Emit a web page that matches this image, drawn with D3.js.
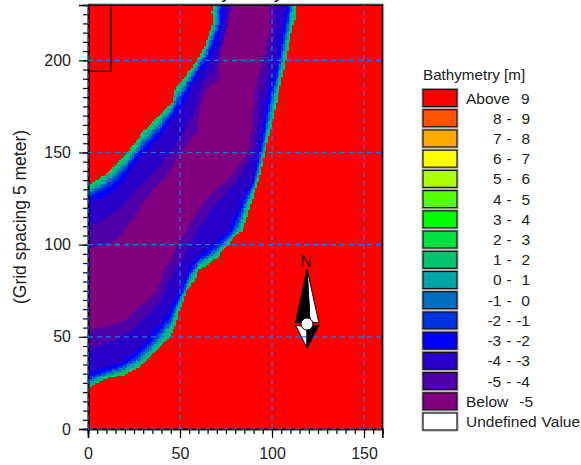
<!DOCTYPE html>
<html>
<head>
<meta charset="utf-8">
<script src="https://d3js.org/d3.v7.min.js"></script>
<style>
body { margin: 0; background: #fff; }
text { font-family: "Liberation Sans", Arial, sans-serif; fill: #222; white-space: pre; }
</style>
</head>
<body>
<div id="chart-area"></div>
<script>
//Legend
var legendLabels = ["Above  9", "8 -  9", "7 -  8", "6 -  7", "5 -  6", "4 -  5", "3 -  4", "2 -  3", "1 -  2", "0 -  1",
    "-1 -  0", "-2 - -1", "-3 - -2", "-4 - -3", "-5 - -4", "Below  -5", "Undefined Value"];
var legendColors = ["#ff0000", "#ff5500", "#ffaa00", "#ffff00", "#aaff00", "#55ff00", "#00ff00", "#00e040", "#00c46c", "#00a5a5",
    "#006ec0", "#0032e0", "#0000ff", "#2a00c8", "#5000a8", "#800080", "#ffffff"];

//Band outlines: [x, y] in grid cells, channel left bank then right bank
var band12Left = [[0,132.3],[5.4,135],[10.9,139.4],[16.3,144.3],[21.2,149.7],[24.5,154],[28.3,159.4],[35.3,166.5],[40.8,171.9],[45.7,176.8],[47.3,183.8],[51.1,189.3],[56.5,196.3],[60.9,202.8],[64.7,211],[67.9,220.2],[67.4,225.6],[67.9,231]];
var band12Right = [[113.6,231],[113,223.4],[110.3,214.8],[107.6,200],[102.7,178.4],[100.5,167.6],[96.2,149.7],[92.9,135],[90.8,128.5],[89.1,124.2],[86.4,115],[84.2,107.9],[78.8,103.6],[76.1,99.8],[70.1,92.7],[64.7,88.9],[59.8,86.2],[58.2,80.8],[53.8,75.4],[51.6,68.9],[48.9,62.9],[48.4,57.5],[45.1,51],[42.9,48.3],[37.5,42.8],[32.1,37.4],[27.2,33.1],[20.1,29.3],[9.2,27.1],[2.7,23.9],[0,21.7]];

var band01Left = [[0,130.5],[5,132.8],[10,136.5],[15,140.4],[20,145.5],[25,151.2],[30,158.8],[35,163.8],[40,168.9],[45,174.4],[48,182],[52,187.8],[56.5,194.4],[61,201],[65,208.9],[69,220],[69.2,231]];
var band01Right = [[112.5,231],[109,214],[106.6,200],[101.5,178],[98.9,165],[95.5,150],[92.2,135],[88,124],[85,115],[82.6,108],[76,101.2],[70,94.4],[65,90.9],[60,87.9],[56,80.5],[52,72],[49,65],[45,54.3],[40,47.9],[35,42.6],[30,37.5],[25,33.6],[18,30.3],[9,28.3],[0,23.4]];

var bandM1Left = [[0,128.8],[5,131.1],[10,134.5],[15,138.1],[20,143.3],[25,149.6],[30,156.7],[35,161.7],[40,166.9],[45,172.9],[48,179.6],[52,185.6],[56.5,192.6],[61,199.3],[65,206.5],[70,220],[70.4,231]];
var bandM1Right = [[111.5,231],[108.1,214],[105.7,200],[100.6,178],[98.1,165],[94.8,150],[91.6,135],[87,124],[83.8,115],[81.2,108],[76,102.6],[70,96.1],[65,92.5],[60,89.3],[56,82.7],[52,73.7],[49,66.8],[45,56.8],[40,50.2],[35,44.6],[30,39.4],[25,35.4],[18,31.6],[9,29.3],[0,25]];

var bandM2Left = [[0,127.2],[5,129.4],[10,132.6],[15,136],[20,141.2],[25,148],[30,154.6],[35,159.7],[40,165],[45,171.4],[48,177.2],[52,183.5],[56.5,191],[61,197.7],[65,204.2],[70.9,220],[71.5,231]];
var bandM2Right = [[110.6,231],[107.3,214],[104.9,200],[99.7,178],[97.3,165],[94.2,150],[91,135],[86.1,124],[82.6,115],[79.9,108],[76,103.9],[70,97.7],[65,94],[60,90.7],[56,84.7],[52,75.3],[49,68.5],[45,59.1],[40,52.3],[35,46.6],[30,41.2],[25,37],[18,32.8],[9,30.3],[0,26.5]];

var bandM3Left = [[0,125.7],[5,127.7],[10,130.8],[15,133.8],[20,139.1],[25,146.5],[30,152.7],[35,157.7],[40,163.1],[45,170],[48,174.9],[52,181.4],[56.5,189.3],[61,196],[65,201.9],[71.9,220],[72.7,231]];
var bandM3Right = [[109.7,231],[106.4,214],[104.1,200],[98.8,178],[96.4,165],[93.5,150],[90.5,135],[85.1,124],[81.4,115],[78.6,108],[76,105.2],[70,99.2],[65,95.5],[60,92.1],[56,86.7],[52,77],[49,70.2],[45,61.5],[40,54.5],[35,48.5],[30,43],[25,38.7],[18,34],[9,31.4],[0,28]];

var bandM4Left = [[0,123.1],[7.6,125.8],[13,128.5],[19,134],[22.8,141],[28.3,147.5],[33.7,152.9],[41.8,162.1],[45.7,168.7],[50,173],[52.7,178.4],[56.5,186.6],[60.9,193.1],[65.2,198.5],[70.1,209.3],[73.4,220.2],[74.5,231]];
var bandM4Right = [[108.2,231],[105.4,216.4],[102.7,200],[97.3,178.4],[95.1,164.9],[92.4,149.7],[90.2,136.1],[88,132.3],[84.2,125.3],[79.9,116],[76.1,107.4],[67.4,99.8],[58.7,92.7],[54.3,86.2],[50,75.4],[47.3,71],[44.6,64.5],[40.8,59.1],[35.3,52.1],[31,46.6],[25.5,41.8],[18.5,36.3],[9.2,33.1],[0,30.4]];

var bandM5Left = [[0,109.5],[7.6,113.3],[16.3,118.8],[22.8,125.8],[29.9,133.4],[37.5,140.5],[42.9,147.5],[48.4,155.1],[52.7,162.1],[57.1,171.4],[59.8,180],[63.6,189.3],[67.4,193.6],[70.1,200.1],[74.5,214.8],[76.6,231]];
var bandM5Right = [[102.7,231],[101.6,216.4],[98.9,200],[93.5,178.4],[92.4,164.9],[90.2,149.7],[81.5,135],[67.9,120.4],[57.1,104.1],[50,90],[47.3,86.2],[41.8,75.4],[39.1,70],[34.8,64.5],[29.9,60.2],[25.5,54.8],[18.5,49.9],[9.2,46.6],[0,42.8]];

var belowLeft = [[0,97.1],[15.8,102.5],[26.6,117.1],[32.1,125.8],[42.9,137.7],[50,149.7],[59.8,162.1],[60.9,174.6],[64.1,183.8],[70.7,189.3],[71.7,200.1],[74.5,212.6],[78.3,231]];
var belowRight = [[99.5,231],[98.9,216.4],[94.6,200],[89.7,178.4],[89.1,164.9],[87,149.7],[75.5,135],[64.7,125.8],[55.4,111.7],[44.6,91.6],[41.8,86.2],[37.5,75.4],[33.7,71.6],[28.3,66.2],[24.5,62.9],[20.1,58.6],[9.2,55.9],[0,53.7]];

var bands = [
    { color: "#00c46c", outline: band12Left.concat(band12Right) },
    { color: "#00a5a5", outline: band01Left.concat(band01Right) },
    { color: "#006ec0", outline: bandM1Left.concat(bandM1Right) },
    { color: "#0032e0", outline: bandM2Left.concat(bandM2Right) },
    { color: "#0000ff", outline: bandM3Left.concat(bandM3Right) },
    { color: "#2a00c8", outline: bandM4Left.concat(bandM4Right) },
    { color: "#5000a8", outline: bandM5Left.concat(bandM5Right) },
    { color: "#800080", outline: belowLeft.concat(belowRight) }
];

var gridValuesX = [0, 50, 100, 150];
var gridValuesY = [0, 50, 100, 150, 200];
var insetBox = { x: 12.5, y: 194 };

//SVG Canvas
var svg = d3.select("#chart-area").append("svg")
    .attr("width", 581)
    .attr("height", 465)
    .style("display", "block");

//scales
var x = d3.scaleLinear().domain([0, 160]).range([88, 382.4]);
var y = d3.scaleLinear().domain([0, 230]).range([429, 5]);

//clipped title, only the descenders show
svg.append("text")
    .attr("x", 178)
    .attr("y", -2)
    .attr("font-size", "21px")
    .text("Bathymetry");

//Red land
svg.append("rect")
    .attr("x", x(0))
    .attr("y", y(230))
    .attr("width", x(160) - x(0))
    .attr("height", y(0) - y(230))
    .attr("fill", "#ff0000");

// each band goes on the grid cell by cell, row runs merged, inner bands over outer ones
bands.forEach(function(band) {
    var d = "";
    d3.range(230).forEach(function(row) {
        var start = null;
        d3.range(161).forEach(function(col) {
            var inside = col < 160 && d3.polygonContains(band.outline, [col + 0.5, row + 0.5]);
            if (inside && start === null) start = col;
            if (!inside && start !== null) {
                d += "M" + x(start) + "," + y(row + 1) + "H" + x(col) + "V" + y(row) + "H" + x(start) + "Z";
                start = null;
            }
        });
    });
    svg.append("path")
        .attr("d", d)
        .attr("fill", band.color)
        .attr("shape-rendering", "crispEdges");
});

//Inset box top left
svg.append("path")
    .attr("d", "M" + x(0) + "," + y(insetBox.y) + "H" + x(insetBox.x) + "V" + y(230))
    .attr("fill", "none")
    .attr("stroke", "#000")
    .attr("stroke-width", 1.3);

//Frame, with the grey edge outside it
svg.append("path")
    .attr("d", "M" + x(0) + "," + (y(230) - 1.3) + "H" + (x(160) + 1.3) + "V" + y(0))
    .attr("fill", "none")
    .attr("stroke", "#bbb")
    .attr("stroke-width", 1);
svg.append("path")
    .attr("d", "M" + x(0) + "," + y(230) + "H" + x(160) + "V" + y(0))
    .attr("fill", "none")
    .attr("stroke", "#000")
    .attr("stroke-width", 1.6);

//X Axis
var xMinor = d3.axisBottom(x).tickValues(d3.range(0, 160, 5)).tickSize(5).tickFormat("");
var xMajor = d3.axisBottom(x).tickValues(gridValuesX).tickSize(9).tickPadding(10);
svg.append("g").attr("transform", "translate(0," + y(0) + ")").call(xMinor);
var xAxis = svg.append("g").attr("transform", "translate(0," + y(0) + ")").call(xMajor);

//Y axis
var yMinor = d3.axisLeft(y).tickValues(d3.range(0, 230, 5)).tickSize(5).tickFormat("");
var yMajor = d3.axisLeft(y).tickValues(gridValuesY).tickSize(9).tickPadding(8);
svg.append("g").attr("transform", "translate(" + x(0) + ",0)").call(yMinor);
var yAxis = svg.append("g").attr("transform", "translate(" + x(0) + ",0)").call(yMajor);

svg.selectAll(".domain").attr("stroke-width", 1.6).attr("stroke", "#000");
svg.selectAll(".tick line").attr("stroke", "#000").attr("stroke-width", 1.2);
svg.selectAll(".tick text").attr("font-size", "16px").attr("font-family", "Liberation Sans").attr("fill", "#222");

//Grid
svg.selectAll(".gridX").data(gridValuesX).enter().append("line")
    .attr("class", "gridX")
    .attr("x1", function(d){ return x(d); })
    .attr("x2", function(d){ return x(d); })
    .attr("y1", y(0))
    .attr("y2", y(230))
    .attr("stroke", "#1e78f0")
    .attr("stroke-width", 1.2)
    .attr("stroke-dasharray", "5,4");
svg.selectAll(".gridY").data(gridValuesY).enter().append("line")
    .attr("class", "gridY")
    .attr("x1", x(0))
    .attr("x2", x(160))
    .attr("y1", function(d){ return y(d); })
    .attr("y2", function(d){ return y(d); })
    .attr("stroke", "#1e78f0")
    .attr("stroke-width", 1.2)
    .attr("stroke-dasharray", "5,4");

//Axis label
svg.append("text")
    .attr("transform", "rotate(-90)")
    .attr("x", -217)
    .attr("y", 26)
    .attr("font-size", "17.5px")
    .attr("text-anchor", "middle")
    .text("(Grid spacing 5 meter)");

//North arrow
var arrow = svg.append("g").attr("transform", "translate(307,324)");
arrow.append("path").attr("d", "M0,-55L12,-1L3,-2Z").attr("fill", "#fff").attr("stroke", "#000");
arrow.append("path").attr("d", "M0,-55L-11.5,-1L3,-2Z").attr("fill", "#000").attr("stroke", "#000");
arrow.append("path").attr("d", "M-11.5,1L0,24L0,3Z").attr("fill", "#fff").attr("stroke", "#000");
arrow.append("path").attr("d", "M12,1L0,24L0,3Z").attr("fill", "#000").attr("stroke", "#000");
arrow.append("circle").attr("r", 6).attr("fill", "#fff").attr("stroke", "#000");
// the y=50 grid line shows through the white part of the arrow
svg.append("line")
    .attr("x1", 301)
    .attr("x2", 306)
    .attr("y1", y(50))
    .attr("y2", y(50))
    .attr("stroke", "#1e78f0")
    .attr("stroke-width", 1.2);
svg.append("text")
    .attr("x", 306)
    .attr("y", 267)
    .attr("font-size", "16px")
    .attr("text-anchor", "middle")
    .style("fill", "#400000")
    .text("N");

//Legend
svg.append("text")
    .attr("x", 423)
    .attr("y", 80)
    .attr("font-size", "15.2px")
    .text("Bathymetry [m]");

var rows = svg.selectAll(".legendRow").data(legendLabels).enter().append("g")
    .attr("class", "legendRow")
    .attr("transform", function(d, i){ return "translate(0," + (89 + i * 20.22) + ")"; });
rows.append("rect")
    .attr("x", 422)
    .attr("y", -0.5)
    .attr("width", 36)
    .attr("height", 19)
    .attr("fill", "none")
    .attr("stroke", "#aaa")
    .attr("stroke-width", 1);
rows.append("rect")
    .attr("x", 423)
    .attr("y", 0.5)
    .attr("width", 34)
    .attr("height", 17)
    .attr("fill", function(d, i){ return legendColors[i]; })
    .attr("stroke", "#111")
    .attr("stroke-width", 1.2);
rows.append("text")
    .attr("x", function(d){ return /^[A-Z]/.test(d) ? 466 : 530; })
    .attr("y", 14.5)
    .attr("font-size", "15.5px")
    .attr("word-spacing", function(d){ return /^(Above|Below)/.test(d) ? "1.2px" : "0.6px"; })
    .attr("text-anchor", function(d){ return /^[A-Z]/.test(d) ? "start" : "end"; })
    .text(function(d){ return d; });
</script>
</body>
</html>
